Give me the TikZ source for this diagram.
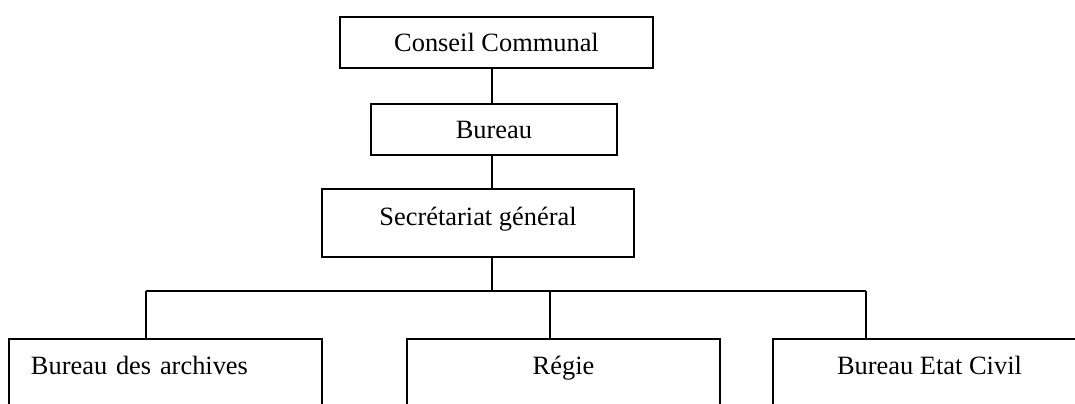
\documentclass[tikz,border=0pt]{standalone}
\usepackage{fontspec}
\setmainfont{Liberation Serif}
\usetikzlibrary{calc,positioning}
\tikzset{
  orgbox/.style  = {draw=black, line width=1.1pt, fill=white,
                    font=\fontsize{13.2}{15}\selectfont, align=center,
                    inner sep=2pt, minimum height=25.5pt},
  unitbox/.style = {orgbox, minimum width=156.5pt, minimum height=34pt,
                    anchor=north, text height=10pt, text depth=9pt},
  link/.style    = {draw=black, line width=1.1pt},
}
\begin{document}
\begin{tikzpicture}[x=0.5pt, y=-0.5pt]
    \useasboundingbox (0,0) rectangle (1075,403);
    \clip (0,0) rectangle (1075,403);
    % ---------------- chain of command
    \node[orgbox, minimum width=156.5pt] (cc) at (496.5,42.5) {Conseil Communal};
    \node[orgbox, minimum width=123pt] (bu) at (494,129.5) {Bureau};
    \node[orgbox, minimum width=156pt, minimum height=34pt,
          text height=10pt, text depth=8pt] (sg) at (478,223) {Secrétariat général};

    % ---------------- services
    \node[unitbox, text width=134.5pt, align=left, inner xsep=11pt] (ar) at (165.5,338)
      {Bureau des archives};
    \node[unitbox] (rg) at (563.5,338) {Régie};
    \node[unitbox] (ec) at (929.5,338) {Bureau Etat Civil};

    \coordinate (spine) at (492,291);
    \coordinate (dropA) at (146,291);
    \coordinate (dropB) at (550,291);
    \coordinate (dropC) at (866,291);

    \draw[link] (cc.south -| spine) -- (bu.north -| spine);
    \draw[link] (bu.south -| spine) -- (sg.north -| spine);
    \draw[link] (sg.south -| spine) -- (spine);
    \draw[link] (dropA) -- (dropC);
    \foreach \d/\n in {dropA/ar, dropB/rg, dropC/ec} {\draw[link] (\d) -- (\n.north -| \d);}
\end{tikzpicture}
\end{document}
